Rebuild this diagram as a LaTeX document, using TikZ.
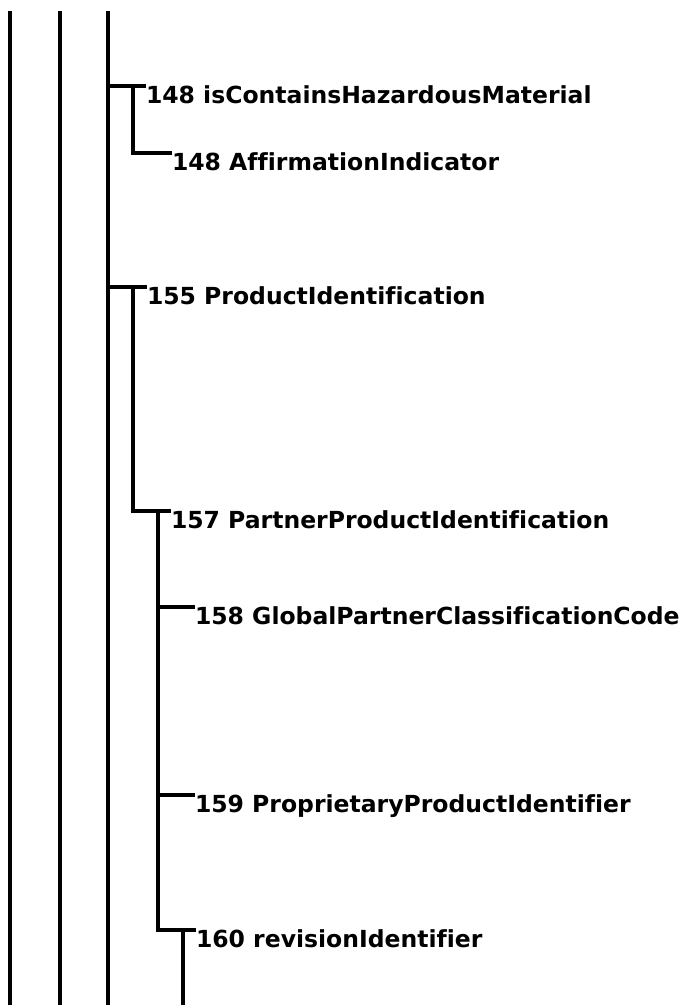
\documentclass[tikz,border=0pt]{standalone}
\usepackage{fontspec}
\setmainfont{DejaVu Sans}[Ligatures=NoCommon]
\begin{document}
\begin{tikzpicture}[x=1pt,y=-1pt,
  wire/.style={line width=3.4pt},
  trunk/.style={line width=4pt},
  label/.style={anchor=north west, inner sep=0pt, outer sep=0pt,
    font=\fontsize{23.5}{28}\selectfont\bfseries,
    text height=17.5pt, text depth=5.5pt}]
\useasboundingbox (0,0) rectangle (688,1005);
% trunk ends
\coordinate (aTop) at (10,11);   \coordinate (aBot) at (10,1005);
\coordinate (bTop) at (60,11);   \coordinate (bBot) at (60,1005);
\coordinate (cTop) at (108,11);  \coordinate (cBot) at (108,1005);
\draw[wire] (aTop) -- (aBot);
\draw[wire] (bTop) -- (bBot);
\draw[trunk] (cTop) -- (cBot);
% labels
\node[label] (n148a) at (146,86) {148 isContainsHazardousMaterial};
\node[label] (n148b) at (172,153) {148 AffirmationIndicator};
\node[label] (n155)  at (147,287) {155 ProductIdentification};
\node[label] (n157)  at (171,511) {157 PartnerProductIdentification};
\node[label] (n158)  at (195,607) {158 GlobalPartnerClassificationCode};
\node[label] (n159)  at (195,795) {159 ProprietaryProductIdentifier};
\node[label] (n160)  at (196,930) {160 revisionIdentifier};
% branch points
\coordinate (j148a) at (108,86);
\coordinate (k148a) at (133,86);
\coordinate (j155)  at (108,287);
\coordinate (k155)  at (133,287);
\coordinate (k157)  at (158,511);
\coordinate (k160)  at (183,930);
\coordinate (e160)  at (183,1005);
% connectors
\draw[wire] (j148a) -- (n148a.north west);
\draw[wire] (k148a) |- (n148b.north west);
\draw[wire] (j155) -- (n155.north west);
\draw[wire] (k155) |- (n157.north west);
\draw[wire] (k157) |- (n158.north west);
\draw[wire] (k157) |- (n159.north west);
\draw[wire] (k157) |- (n160.north west);
\draw[wire] (k160) -- (e160);
\end{tikzpicture}
\end{document}
